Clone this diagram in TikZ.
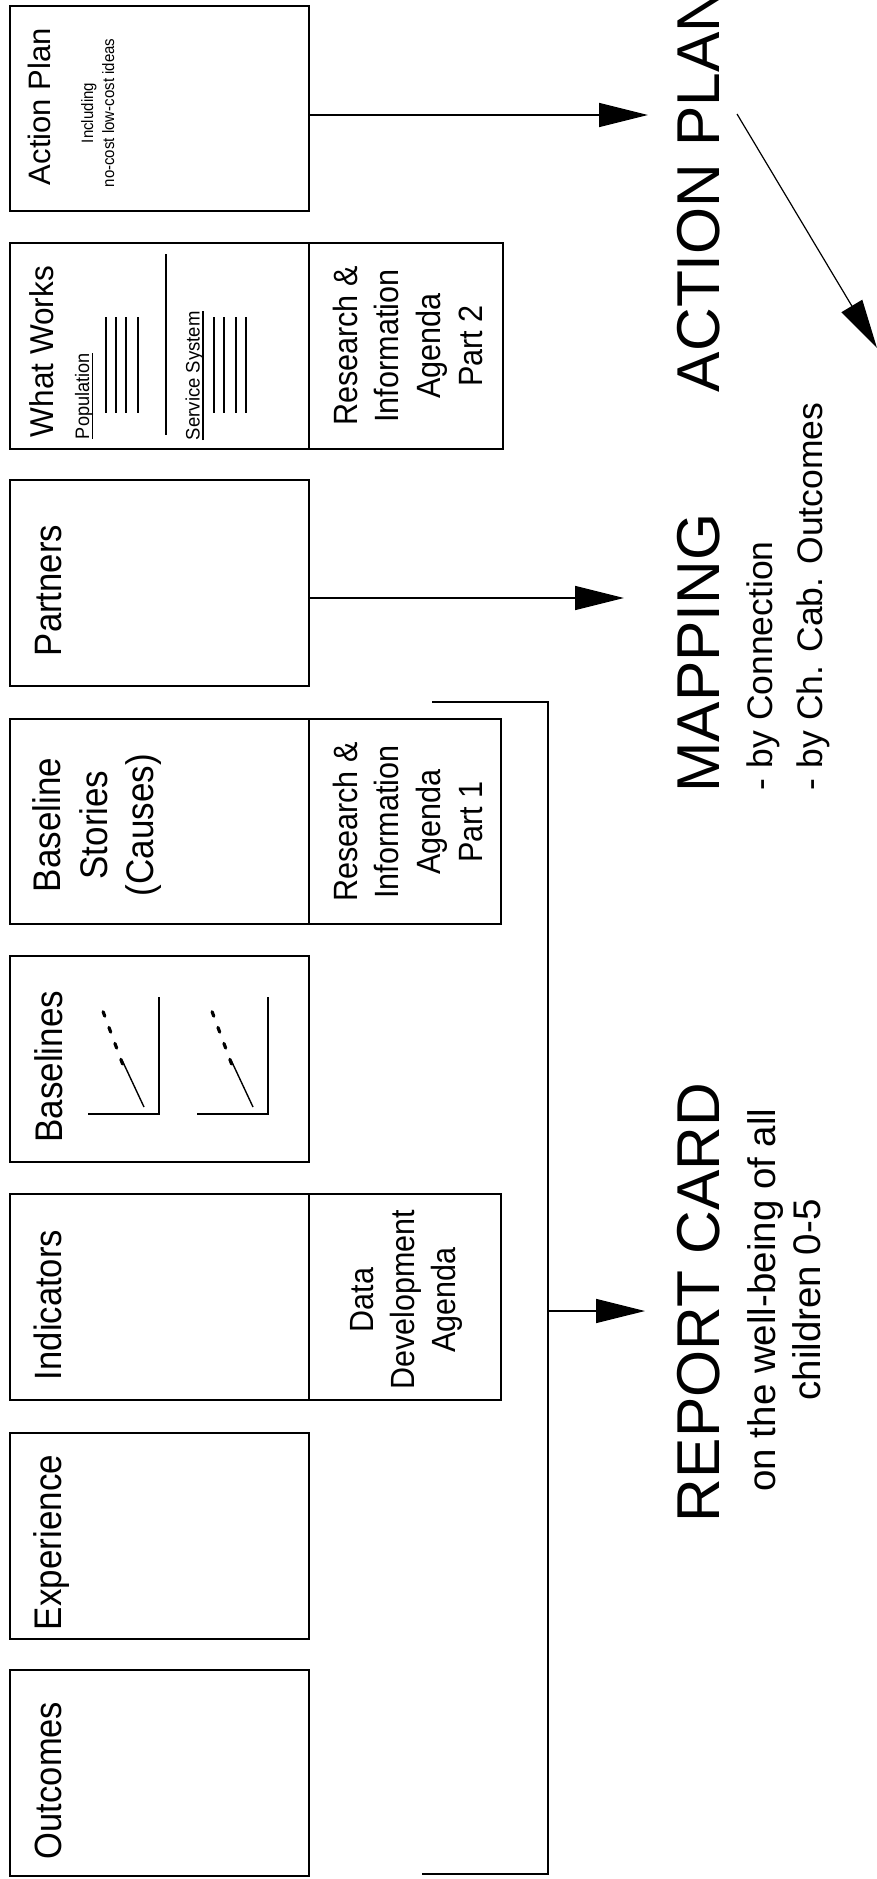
\documentclass[tikz,border=0pt]{standalone}
\usepackage{fontspec}
\setmainfont{Liberation Sans}
\usetikzlibrary{arrows.meta}
\newcommand{\setfs}[1]{\fontsize{#1}{#1}\selectfont}
\newcommand{\tallt}[1]{\scalebox{1}[1.1]{#1}}
\tikzset{
  box/.style={draw, line width=2pt, inner sep=0pt, outer sep=0pt, anchor=north west},
  vt/.style={rotate=90, inner sep=0pt, outer sep=0pt},
  vtl/.style={vt, anchor=base west},
  vtc/.style={vt, anchor=base},
  conn/.style={line width=1.8pt},
  arr/.style={line width=1.6pt, -{Triangle[length=49pt,width=24pt]}},
  diagarr/.style={line width=1.2pt, -{Triangle[length=49pt,width=24pt]}},
  rule/.style={line width=2pt},
  ul/.style={line width=1.3pt},
  chart/.pic={
    \draw[line width=2pt] (-71,0) -- (0,0) -- (0,-117);
    \draw[line width=1.4pt] (-15,-7) -- (-37,-54);
    \draw[line width=3.2pt, line cap=round, dash pattern=on 5pt off 12pt] (-36.4,-50) -- (-55.9,-102.3);
  }
}
\begin{document}
\begin{tikzpicture}[x=1pt,y=-1pt]
\useasboundingbox (0,0) rectangle (877,1879);

% ---------- boxes ----------
\node[box, minimum width=299pt, minimum height=205pt] (ap)  at (10,6)    {};
\node[box, minimum width=299pt, minimum height=206pt] (ww)  at (10,243)  {};
\node[box, minimum width=194pt, minimum height=206pt] (rp2) at (309,243) {};
\node[box, minimum width=299pt, minimum height=206pt] (pa)  at (10,480)  {};
\node[box, minimum width=299pt, minimum height=205pt] (bs)  at (10,719)  {};
\node[box, minimum width=192pt, minimum height=205pt] (rp1) at (309,719) {};
\node[box, minimum width=299pt, minimum height=206pt] (bl)  at (10,956)  {};
\node[box, minimum width=299pt, minimum height=206pt] (ind) at (10,1194) {};
\node[box, minimum width=192pt, minimum height=206pt] (dd)  at (309,1194){};
\node[box, minimum width=299pt, minimum height=206pt] (ex)  at (10,1433) {};
\node[box, minimum width=299pt, minimum height=206pt] (ou)  at (10,1670) {};

% ---------- Action Plan box ----------
\node[vtl, font=\setfs{31}] (apT) at (50,185) {Action Plan};
\node[vtc, font=\setfs{16.5}] (apS1) at (93,113) {\scalebox{0.91}[1]{Including}};
\node[vtc, font=\setfs{16.5}] (apS2) at (114,113) {\scalebox{0.91}[1]{no-cost low-cost ideas}};

% ---------- What Works box ----------
\node[vtl, font=\setfs{31.5}] (wwT) at (53,437) {\scalebox{1}[1.05]{What Works}};
\node[vtl, font=\setfs{19.5}] (pop) at (89,439) {\scalebox{0.93}[1]{Population}};
\draw[ul] ([xshift=3.5pt]pop.base west) -- ([xshift=3.5pt]pop.base east);
\foreach \x in {106,116,126,138}
  \draw[rule] (\x,317) -- (\x,413);
\draw[rule] (166,254) -- (166,435);
\node[vtl, font=\setfs{19.5}] (svc) at (199.5,440) {\scalebox{0.95}[1]{Service System}};
\draw[ul] ([xshift=3.5pt]svc.base west) -- ([xshift=3.5pt]svc.base east);
\foreach \x in {214,224,236,246}
  \draw[rule] (\x,317) -- (\x,413);

% ---------- Research & Information Agenda Part 2 ----------
\node[vtc, font=\setfs{30.6}] (rp2a) at (357,346)   {\tallt{Research \&}};
\node[vtc, font=\setfs{30.6}] (rp2b) at (398.7,346) {\tallt{Information}};
\node[vtc, font=\setfs{30.6}] (rp2c) at (440.4,346) {\tallt{Agenda}};
\node[vtc, font=\setfs{30.6}] (rp2d) at (482,346)   {\tallt{Part 2}};

% ---------- Partners ----------
\node[vtl, font=\setfs{34.7}] (paT) at (61,656) {\tallt{Partners}};

% ---------- Baseline Stories ----------
\node[vtc, font=\setfs{35}] (bsA) at (60,825)  {\tallt{Baseline}};
\node[vtc, font=\setfs{35}] (bsB) at (107,825) {\tallt{Stories}};
\node[vtc, font=\setfs{35}] (bsC) at (153,825) {\tallt{(Causes)}};
\node[vtc, font=\setfs{30.6}] (rp1a) at (357,822)   {\tallt{Research \&}};
\node[vtc, font=\setfs{30.6}] (rp1b) at (398.7,822) {\tallt{Information}};
\node[vtc, font=\setfs{30.6}] (rp1c) at (440.4,822) {\tallt{Agenda}};
\node[vtc, font=\setfs{30.6}] (rp1d) at (482,822)   {\tallt{Part 1}};

% ---------- Baselines ----------
\node[vtl, font=\setfs{35}] (blT) at (62,1142.6) {\tallt{Baselines}};
\pic at (159,1114) {chart};
\pic at (268,1114) {chart};

% ---------- Indicators ----------
\node[vtl, font=\setfs{34.6}] (indT) at (61,1380) {\tallt{Indicators}};
\node[vtc, font=\setfs{30.5}] (ddA) at (373,1300) {\tallt{Data}};
\node[vtc, font=\setfs{30.5}] (ddB) at (414,1300) {\tallt{Development}};
\node[vtc, font=\setfs{30.5}] (ddC) at (455,1300) {\tallt{Agenda}};

% ---------- Experience / Outcomes ----------
\node[vtl, font=\setfs{35}] (exT) at (61,1630) {\tallt{Experience}};
\node[vtl, font=\setfs{34.5}] (ouT) at (61,1859) {\tallt{Outcomes}};

% ---------- right-hand titles ----------
\node[vtl, font=\setfs{60.5}] (apBig) at (719,392) {ACTION PLAN};
\node[vtl, font=\setfs{60.5}] (mapBig) at (719,792.5) {MAPPING};
\node[vtl, font=\setfs{35.5}] (map1) at (772,790) {- by Connection};
\node[vtl, font=\setfs{35.5}] (map2) at (822,790) {- by Ch. Cab. Outcomes};
\node[vtl, font=\setfs{60.5}] (rcBig) at (719,1522) {REPORT CARD};
\node[vtc, font=\setfs{38.5}] (rc1) at (775,1300) {on the well-being of all};
\node[vtc, font=\setfs{38.5}] (rc2) at (820,1300) {children 0-5};

% ---------- connectors ----------
\coordinate (apTip) at (648,115);
\draw[arr] (ap.east |- apTip) -- (apTip);
\coordinate (paTip) at (624,598);
\draw[arr] (pa.east |- paTip) -- (paTip);
\coordinate (dgS) at (737,114);
\coordinate (dgT) at (877,348);
\draw[diagarr] (dgS) -- (dgT);

\coordinate (brT) at (432,702);
\coordinate (brB) at (422,1874);
\coordinate (brM) at (548,1311);
\coordinate (rcTip) at (645,1311);
\draw[conn] (brT) -- (brT -| brM) -- (brB -| brM) -- (brB);
\draw[arr] (brM) -- (rcTip);
\end{tikzpicture}
\end{document}
